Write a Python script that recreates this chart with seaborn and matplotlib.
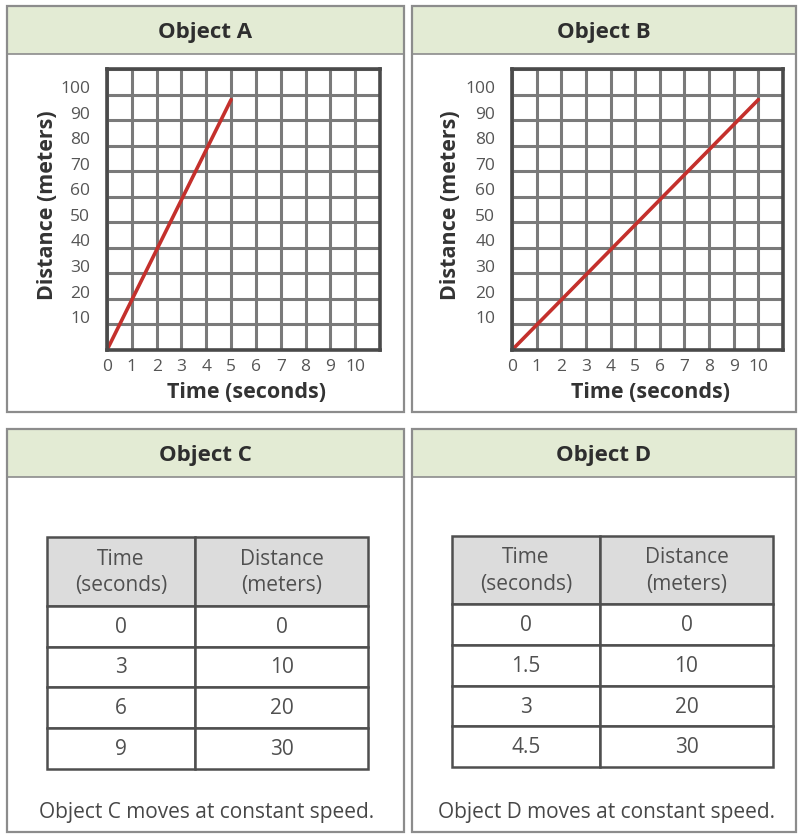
import matplotlib
matplotlib.use("Agg")
import matplotlib.pyplot as plt
import matplotlib.transforms as mtransforms
from matplotlib.patches import Rectangle
import seaborn as sns
import pandas as pd

# data
a_time = [0, 5]
a_distance = [0, 98]
b_time = [0, 10]
b_distance = [0, 98]

c_time = [0, 3, 6, 9]
c_distance = [0, 10, 20, 30]
d_time = [0, 1.5, 3, 4.5]
d_distance = [0, 10, 20, 30]

x_ticks = list(range(0, 11))
y_ticks = list(range(10, 101, 10))

titles = ["Object A", "Object B", "Object C", "Object D"]
table_header = ["Time\n(seconds)", "Distance\n(meters)"]
captions = ["Object C moves at constant speed.", "Object D moves at constant speed."]

W, H = 798, 837
HEADER_GREEN = "#e3ebd4"
BORDER = "#8c8c8c"
GRID = "#7a7a7a"
RED = "#c4302c"

sns.set_theme(style="white")
plt.rcParams["font.family"] = ["Open Sans", "DejaVu Sans"]

fig = plt.figure(figsize=(W / 100, H / 100), dpi=100)


def frac(x0, y0, x1, y1):
    # pixel box (top-left origin) -> figure fraction
    return [x0 / W, 1 - y1 / H, (x1 - x0) / W, (y1 - y0) / H]


# background layer with panel frames and headers
bg = fig.add_axes([0, 0, 1, 1])
bg.set_xlim(0, W)
bg.set_ylim(H, 0)
bg.axis("off")

panels = [(7, 7, 404, 413, 55), (412, 7, 796, 413, 55),
          (7, 430, 404, 833, 478), (412, 430, 796, 833, 478)]
for (x0, y0, x1, y1, hb), title in zip(panels, titles):
    bg.add_patch(Rectangle((x0, y0), x1 - x0, hb - y0, facecolor=HEADER_GREEN,
                           edgecolor="none"))
    bg.plot([x0, x1], [hb, hb], color=BORDER, lw=1.2)
    bg.add_patch(Rectangle((x0, y0), x1 - x0, y1 - y0, facecolor="none",
                           edgecolor=BORDER, lw=1.6))
    bg.text((x0 + x1) / 2, (y0 + hb) / 2 + 1, title, ha="center", va="center",
            fontsize=16, fontweight="bold", color="#2e2e2e")


def graph(box, t, d, ylab_x, xlab_x):
    ax = fig.add_axes(frac(*box))
    df = pd.DataFrame({"Time": t, "Distance": d})
    sns.lineplot(data=df, x="Time", y="Distance", ax=ax, color=RED, lw=2.6)
    ax.set_xlim(0, 11)
    ax.set_ylim(0, 110)
    ax.set_xticks(range(0, 12))
    ax.set_xticklabels([str(v) for v in x_ticks] + [""])
    ax.set_yticks(range(0, 111, 10))
    ax.set_yticklabels([""] + [str(v) for v in y_ticks] + [""])
    ax.grid(True, color=GRID, lw=2.2)
    ax.set_axisbelow(True)
    for s in ax.spines.values():
        s.set_color("#4a4a4a")
        s.set_linewidth(2.6)
    ax.tick_params(axis="both", length=0, labelsize=12.5, labelcolor="#555555")
    ax.tick_params(axis="x", pad=6)
    ax.tick_params(axis="y", pad=12)
    shift = mtransforms.ScaledTranslation(0, 6 / 72, fig.dpi_scale_trans)
    for lab in ax.get_yticklabels():
        lab.set_transform(lab.get_transform() + shift)
    ax.set_xlabel("Time (seconds)", fontsize=15.5, fontweight="bold", color="#333333")
    ax.set_ylabel("Distance (meters)", fontsize=15.5, fontweight="bold", color="#333333")
    ax.xaxis.set_label_coords(xlab_x, -0.11)
    ax.yaxis.set_label_coords(ylab_x, 0.52)
    return ax


graph((107, 70, 380, 351), a_time, a_distance, -0.18, 0.51)
graph((512, 70, 783, 351), b_time, b_distance, -0.19, 0.51)


def table(box, times, dists, caption, cap_x):
    ax = fig.add_axes(frac(*box))
    ax.axis("off")
    rows = [[f"{t:g}", f"{v:g}"] for t, v in zip(times, dists)]
    tb = ax.table(cellText=rows, colLabels=table_header, cellLoc="center",
                  bbox=[0, 0, 1, 1])
    tb.auto_set_font_size(False)
    col_w = [148, 173]
    for (r, c), cell in tb.get_celld().items():
        cell.set_width(col_w[c])
        cell.set_height(69 if r == 0 else 41)
        cell.set_edgecolor("#4f4f4f")
        cell.set_linewidth(1.8)
        cell.get_text().set_color("#505050")
        cell.get_text().set_fontsize(15)
        if r == 0:
            cell.set_facecolor("#dcdcdc")
            cell.get_text().set_linespacing(1.35)
    bg.text(cap_x, 813, caption, ha="center", va="center", fontsize=15,
            color="#474747")


table((47, 538, 368, 770), c_time, c_distance, captions[0], 207)
table((452, 537, 773, 768), d_time, d_distance, captions[1], 606)

fig.savefig("out.png", dpi=100)
